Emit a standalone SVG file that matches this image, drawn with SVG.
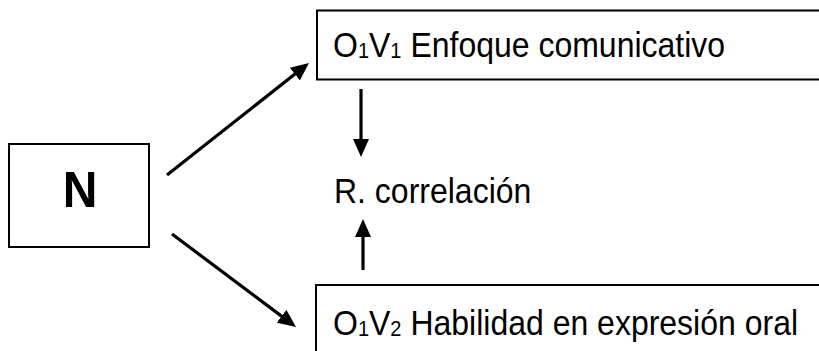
<svg xmlns="http://www.w3.org/2000/svg" width="819" height="351" viewBox="0 0 819 351">
<style>
.box{fill:#fff;stroke:#000;stroke-width:2}
.t{font-family:"Liberation Sans",Arial,sans-serif;font-size:32px;fill:#000}
.sub{font-size:20px}
.conn{stroke:#000;stroke-width:3.2;fill:none}
</style>
<defs>
<marker id="ah" viewBox="0 0 18 16" refX="9" refY="8" markerWidth="18" markerHeight="16" markerUnits="userSpaceOnUse" orient="auto">
<path d="M0,0 L18,8 L0,16 Z" fill="#000"/>
</marker>
</defs>
<rect width="819" height="351" fill="#fff"/>
<g id="nodeN">
<rect class="box" x="9" y="144" width="140" height="103" stroke-width="2.5"/>
<text transform="translate(80,207) scale(1,1.05)" text-anchor="middle" font-family="Liberation Sans, Arial, sans-serif" font-weight="bold" font-size="48">N</text>
</g>
<g id="nodeV1">
<rect class="box" x="317" y="10.5" width="520" height="69"/>
<text class="t" transform="translate(333,56.5) scale(1,1.1)">O<tspan class="sub" dy="1">1</tspan><tspan dy="-1">V</tspan><tspan class="sub" dy="1">1</tspan><tspan dy="-1"> Enfoque comunicativo</tspan></text>
</g>
<g id="nodeR">
<text class="t" transform="translate(334,202.5) scale(1,1.1)">R. correlación</text>
</g>
<g id="nodeV2">
<rect class="box" x="316" y="285" width="520" height="90"/>
<text class="t" transform="translate(333,334.5) scale(1,1.1)">O<tspan class="sub" dy="1">1</tspan><tspan dy="-1">V</tspan><tspan class="sub" dy="1">2</tspan><tspan dy="-1"> Habilidad en expresión oral</tspan></text>
</g>
<g id="connectors">
<line class="conn" x1="167" y1="175" x2="301.9" y2="68.6" marker-end="url(#ah)"/>
<line class="conn" x1="172" y1="234" x2="288.8" y2="321.6" marker-end="url(#ah)"/>
<line class="conn" x1="361" y1="89" x2="361" y2="148" marker-end="url(#ah)"/>
<line class="conn" x1="363" y1="270" x2="363" y2="228" marker-end="url(#ah)"/>
</g>
</svg>
